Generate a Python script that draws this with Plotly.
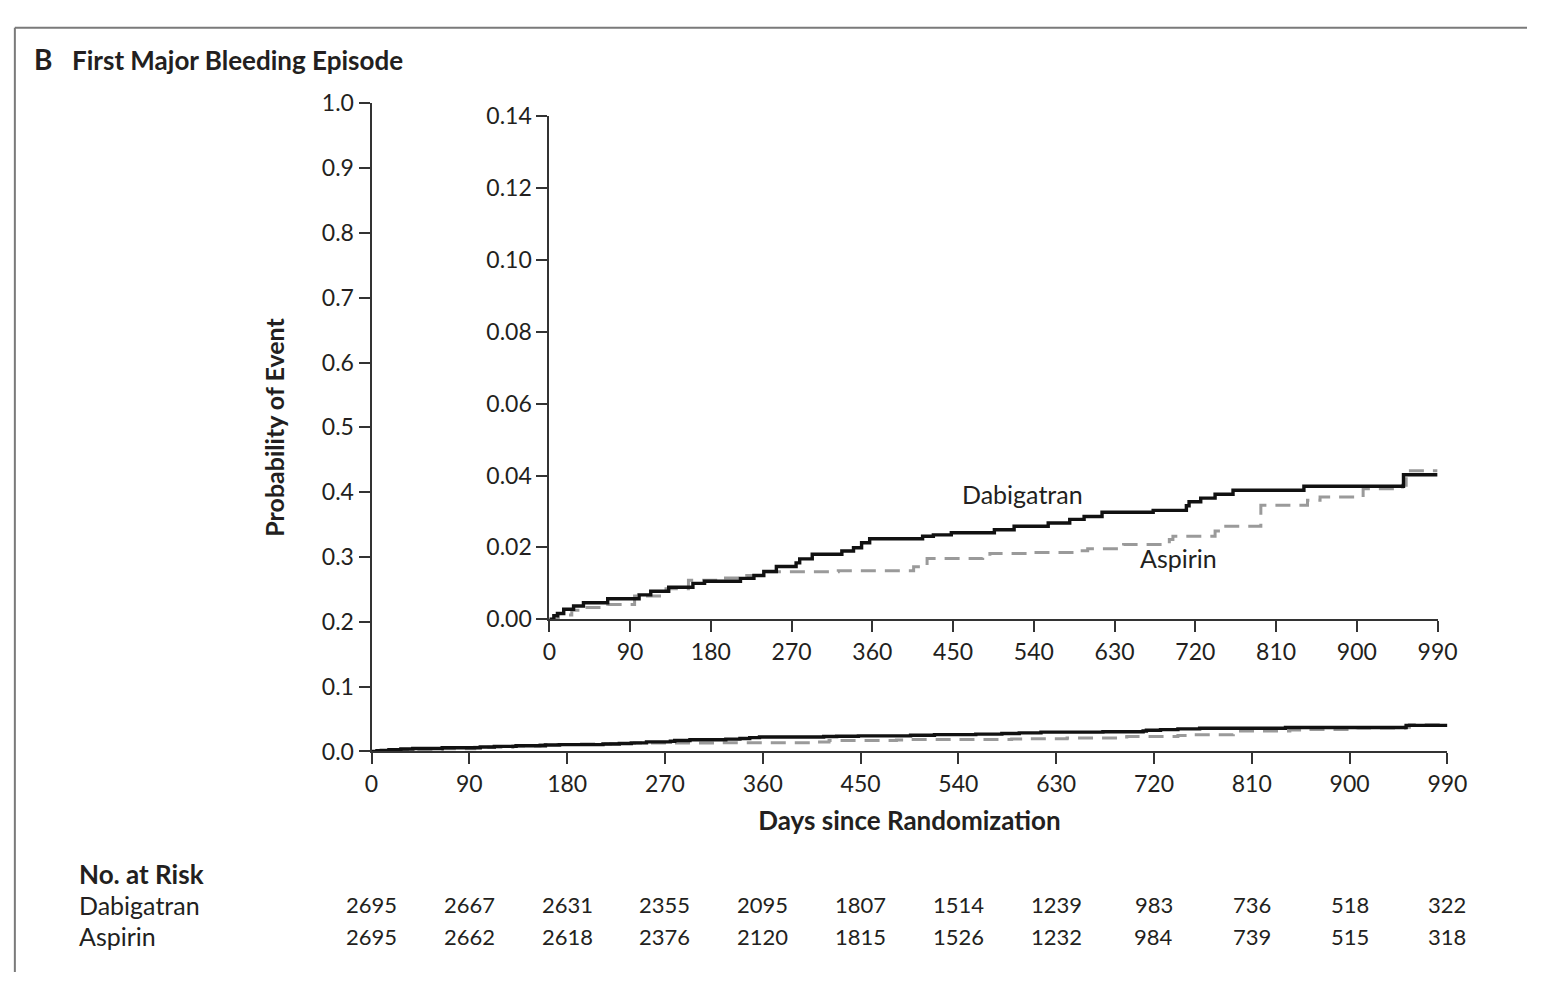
import plotly.graph_objects as go

# ---------------- data ----------------
dabi_days = [0, 5, 9, 16, 27, 38, 65, 100, 113, 133, 160, 173, 213, 228, 239, 253, 275, 279, 293,
             326, 339, 348, 357, 416, 428, 448, 496, 518, 556, 580, 596, 616, 673, 710, 713, 726,
             742, 762, 841, 952, 990]
dabi_prob = [0, 0.0010, 0.0016, 0.0028, 0.0037, 0.0046, 0.0057, 0.0068, 0.0078, 0.0089, 0.0100,
             0.0106, 0.0114, 0.0122, 0.0133, 0.0147, 0.0157, 0.0168, 0.0181, 0.0190, 0.0199,
             0.0213, 0.0224, 0.0231, 0.0235, 0.0241, 0.0249, 0.0259, 0.0268, 0.0278, 0.0286,
             0.0298, 0.0303, 0.0316, 0.0327, 0.0337, 0.0348, 0.0359, 0.0370, 0.0402, 0.0402]

asp_days = [0, 10, 25, 40, 65, 95, 130, 155, 190, 220, 242, 322, 406, 421, 483, 491, 534, 589,
            600, 640, 691, 695, 742, 750, 793, 845, 859, 907, 951, 955, 990]
asp_prob = [0, 0.0012, 0.0025, 0.0033, 0.0041, 0.0065, 0.0085, 0.0109, 0.0115, 0.0122, 0.0132,
            0.0135, 0.0146, 0.0169, 0.0176, 0.0183, 0.0186, 0.0191, 0.0196, 0.0208, 0.0222,
            0.0231, 0.0246, 0.0259, 0.0317, 0.0331, 0.0340, 0.0363, 0.0373, 0.0413, 0.0413]

x_ticks = [0, 90, 180, 270, 360, 450, 540, 630, 720, 810, 900, 990]
main_y_ticks = [0.0, 0.1, 0.2, 0.3, 0.4, 0.5, 0.6, 0.7, 0.8, 0.9, 1.0]
inset_y_ticks = [0.00, 0.02, 0.04, 0.06, 0.08, 0.10, 0.12, 0.14]

risk_groups = ["Dabigatran", "Aspirin"]
risk_dabi = [2695, 2667, 2631, 2355, 2095, 1807, 1514, 1239, 983, 736, 518, 322]
risk_asp = [2695, 2662, 2618, 2376, 2120, 1815, 1526, 1232, 984, 739, 515, 318]

# ---------------- figure ----------------
W, H = 1547, 985
FONT = "Lato"
TXT = "#231f20"
AX = "#333333"

def px(xp):
    return xp / W

def py(yp):
    return 1 - yp / H

fig = go.Figure()

for xa, ya in (("x", "y"), ("x2", "y2")):
    fig.add_trace(go.Scatter(x=asp_days, y=asp_prob, mode="lines", line_shape="hv",
                             line=dict(color="#9a9a9a", width=3, dash="15px,9px"),
                             xaxis=xa, yaxis=ya, showlegend=False, hoverinfo="skip"))
    fig.add_trace(go.Scatter(x=dabi_days, y=dabi_prob, mode="lines", line_shape="hv",
                             line=dict(color="#111111", width=3.4),
                             xaxis=xa, yaxis=ya, showlegend=False, hoverinfo="skip"))

axis_common = dict(showgrid=False, zeroline=False, showline=True, linecolor=AX, linewidth=2,
                   ticks="outside", ticklen=11, tickwidth=2, tickcolor=AX,
                   tickfont=dict(family=FONT, size=23, color=TXT))

fig.update_layout(
    width=W, height=H,
    margin=dict(l=0, r=0, t=0, b=0, pad=0),
    paper_bgcolor="white", plot_bgcolor="rgba(0,0,0,0)",
    font=dict(family=FONT, color=TXT),
    xaxis=dict(domain=[px(371), px(1466)], range=[0, 990], tickvals=x_ticks, anchor="y",
               title=dict(text="<b>Days since Randomization</b>", standoff=16,
                          font=dict(family=FONT, size=26, color=TXT)),
               **axis_common),
    yaxis=dict(domain=[py(758), py(91)], range=[0, 1], tickvals=main_y_ticks, tickformat=".1f",
               anchor="x",
               title=dict(text="<b>Probability of Event</b>", standoff=30,
                          font=dict(family=FONT, size=25, color=TXT)),
               **axis_common),
    xaxis2=dict(domain=[px(552), px(1456)], range=[0, 990], tickvals=x_ticks, anchor="y2",
                **axis_common),
    yaxis2=dict(domain=[py(622), py(104)], range=[0, 0.14], tickvals=inset_y_ticks,
                tickformat=".2f", anchor="x2", **axis_common),
)

ann = []
ann.append(dict(text="<b>B</b>", x=px(25), y=py(45), xref="paper", yref="paper",
                xanchor="left", yanchor="middle", showarrow=False,
                font=dict(family=FONT, size=28, color=TXT)))
ann.append(dict(text="<b>First Major Bleeding Episode</b>", x=px(64), y=py(46), xref="paper",
                yref="paper", xanchor="left", yanchor="middle", showarrow=False,
                font=dict(family=FONT, size=26, color=TXT)))
ann.append(dict(text="Dabigatran", x=527, y=0.0349, xref="x2", yref="y2", showarrow=False,
                xanchor="center", yanchor="middle", font=dict(family=FONT, size=25, color=TXT)))
ann.append(dict(text="Aspirin", x=701, y=0.0170, xref="x2", yref="y2", showarrow=False,
                xanchor="center", yanchor="middle", font=dict(family=FONT, size=25, color=TXT)))
ann.append(dict(text="<b>No. at Risk</b>", x=px(71), y=py(884), xref="paper", yref="paper",
                xanchor="left", yanchor="middle", showarrow=False,
                font=dict(family=FONT, size=26, color=TXT)))
for gname, vals, ypix in ((risk_groups[0], risk_dabi, 916), (risk_groups[1], risk_asp, 948)):
    ann.append(dict(text=gname, x=px(71), y=py(ypix), xref="paper", yref="paper",
                    xanchor="left", yanchor="middle", showarrow=False,
                    font=dict(family=FONT, size=25, color=TXT)))
    for d, v in zip(x_ticks, vals):
        ann.append(dict(text=str(v), x=d, y=py(ypix), xref="x", yref="paper",
                        xanchor="center", yanchor="middle", showarrow=False,
                        font=dict(family=FONT, size=22, color=TXT)))
fig.update_layout(annotations=ann)

# frame lines
fig.add_shape(type="line", xref="paper", yref="paper", x0=px(8), x1=1, y0=py(13), y1=py(13),
              line=dict(color="#7a7a7a", width=2))
fig.add_shape(type="line", xref="paper", yref="paper", x0=px(8), x1=px(8), y0=py(13), y1=0,
              line=dict(color="#7a7a7a", width=2))

fig.write_html(
    "out.html",
    config={"displayModeBar": False},
    post_script=("document.documentElement.style.margin='0';"
                 "document.body.style.margin='0';"
                 "document.documentElement.style.overflow='hidden';"
                 "document.body.style.overflow='hidden';"),
)
